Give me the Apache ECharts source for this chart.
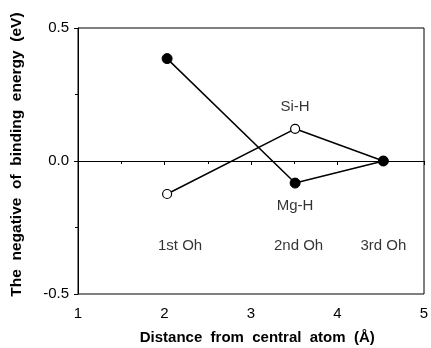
<!DOCTYPE html>
<html>
<head>
<meta charset="utf-8">
<script src="https://cdn.jsdelivr.net/npm/echarts@6/dist/echarts.min.js"></script>
<style>
    html, body { margin: 0; padding: 0; background: #fff; }
    #main { width: 431px; height: 348px; }
</style>
</head>
<body>
<div id="main"></div>
<script>
// distance (Å) and negative binding energy (eV)
var mgX = [2.03, 3.51, 4.53];
var mgY = [0.385, -0.083, 0.0];
var siX = [2.03, 3.51, 4.53];
var siY = [-0.124, 0.121, 0.0];

// annotations placed in data coords
var noteText = ['Si-H', 'Mg-H', '1st Oh', '2nd Oh', '3rd Oh'];
var noteX = [3.51, 3.51, 2.18, 3.55, 4.53];
var noteY = [0.205, -0.17, -0.32, -0.32, -0.32];

var xTicks = [1, 2, 3, 4, 5];
var yTicks = [-0.5, 0.0, 0.5];

function pairs(xs, ys) {
    var out = [];
    for (var i = 0; i < xs.length; i++) {
        out.push([xs[i], ys[i]]);
    }
    return out;
}

var notes = [];
for (var i = 0; i < noteText.length; i++) {
    notes.push({ value: [noteX[i], noteY[i]], name: noteText[i] });
}

var font = 'Liberation Sans, Arial, sans-serif';

var myChart = echarts.init(document.getElementById('main'));
var option = {
    animation: false,
    backgroundColor: '#fff',
    grid: {
        left: 78, right: 7, top: 28, bottom: 54,
        outerBoundsMode: 'none',
        containLabel: false,
        show: true, borderColor: '#000', borderWidth: 1
    },
    xAxis: {
        type: 'value',
        min: xTicks[0], max: xTicks[xTicks.length - 1], interval: 1,
        name: '   Distance  from  central  atom  (Å)',
        nameLocation: 'middle', nameGap: 36,
        nameTextStyle: { fontFamily: font, fontSize: 15, fontWeight: 'bold', color: '#000' },
        axisLine: { lineStyle: { color: '#000', width: 1 } },
        axisTick: { inside: false, length: 4, lineStyle: { color: '#000' } },
        minorTick: { show: true, splitNumber: 2, length: 3, lineStyle: { color: '#000' } },
        axisLabel: { fontFamily: font, fontSize: 15, color: '#000', margin: 12 },
        splitLine: { show: false }
    },
    yAxis: {
        type: 'value',
        min: yTicks[0], max: yTicks[yTicks.length - 1], interval: 0.5,
        name: '   The  negative  of  binding  energy  (eV)',
        nameLocation: 'middle', nameGap: 53,
        nameTextStyle: { fontFamily: font, fontSize: 15.5, fontWeight: 'bold', color: '#000' },
        axisLine: { lineStyle: { color: '#000', width: 1 } },
        axisTick: { inside: false, length: 4, lineStyle: { color: '#000' } },
        minorTick: { show: true, splitNumber: 2, length: 3, lineStyle: { color: '#000' } },
        axisLabel: {
            fontFamily: font, fontSize: 15, color: '#000', margin: 9,
            formatter: function (v) { return v.toFixed(1); }
        },
        splitLine: { show: false }
    },
    series: [
        {
            name: 'Mg-H',
            type: 'line',
            data: pairs(mgX, mgY),
            symbol: 'circle',
            symbolSize: 10,
            itemStyle: { color: '#000', borderColor: '#000' },
            lineStyle: { color: '#000', width: 1.5 },
            z: 3,
            markLine: {
                silent: true,
                symbol: 'none',
                label: { show: false },
                lineStyle: { color: '#000', width: 1, type: 'solid' },
                data: [{ yAxis: 0 }]
            }
        },
        {
            name: 'Si-H',
            type: 'line',
            data: pairs(siX, siY),
            symbol: 'circle',
            symbolSize: 9,
            itemStyle: { color: '#fff', borderColor: '#000', borderWidth: 1.2 },
            lineStyle: { color: '#000', width: 1.5 },
            z: 2
        },
        {
            name: 'notes',
            type: 'scatter',
            data: notes,
            symbolSize: 0,
            silent: true,
            label: {
                show: true,
                position: 'inside',
                formatter: '{b}',
                fontFamily: font,
                fontSize: 15,
                color: '#000'
            }
        }
    ]
};
myChart.setOption(option);
</script>
</body>
</html>
